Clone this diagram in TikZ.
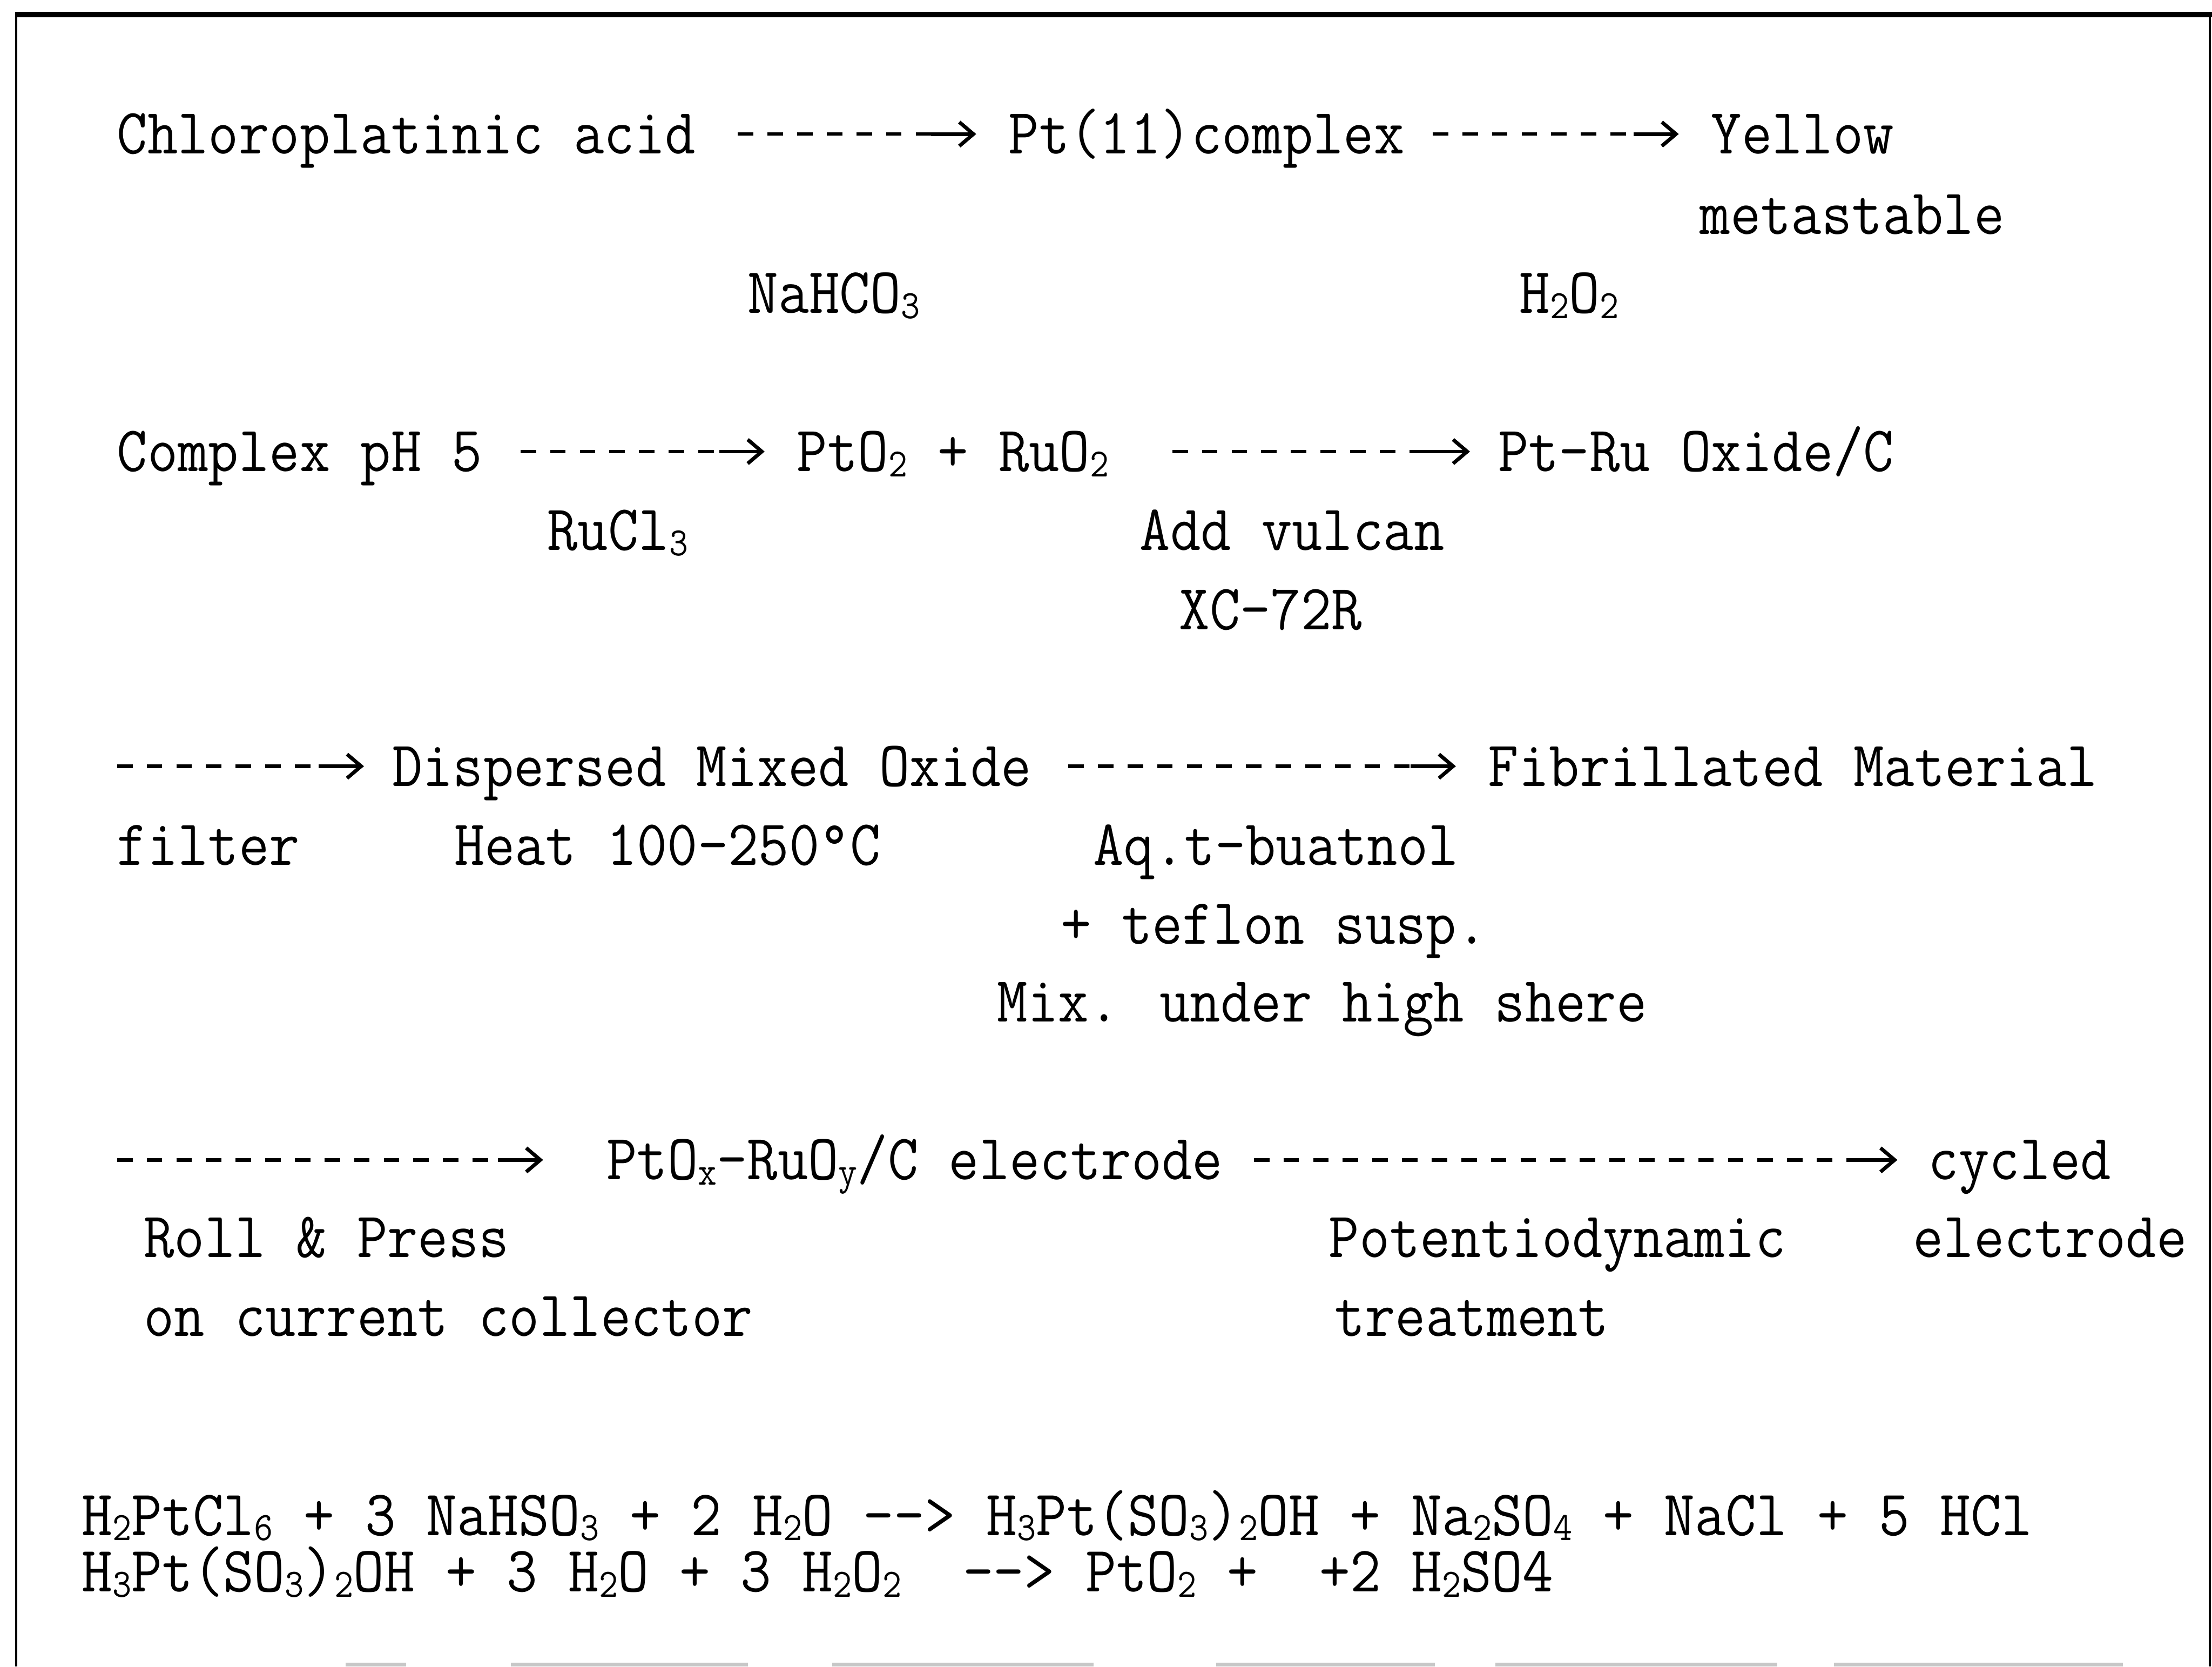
\documentclass[tikz,border=0pt]{standalone}
\usepackage{fontspec}
\usepackage{graphicx}
\usetikzlibrary{arrows.meta}

% typewriter faces: flow-chart text and the condensed formula text
\newcommand\rowfont{\ttfamily\addfontfeature{FakeBold=0.8}\fontsize{45.8pt}{55pt}\selectfont}
\newcommand\eqfont{\ttfamily\addfontfeature{FakeBold=0.8}\fontsize{46pt}{52pt}\selectfont}
\newcommand\rt[1]{\scalebox{0.915}[1]{\rowfont #1}}
\newcommand\et[1]{\scalebox{0.918}[1]{\eqfont #1}}
% small, slightly lowered index
\newcommand\low[1]{\raisebox{-0.08em}{\scalebox{0.62}{#1}}}

\tikzset{
  lbl/.style={anchor=base west, inner sep=0pt, outer sep=0pt},
  item/.style={lbl, text height=28pt, text depth=0pt},
  dsh/.style={line width=2.5pt, dash pattern=on 11pt off 10pt},
  head/.style={line width=2.6pt, -{Straight Barb[length=10pt,width=17pt]}},
  frame/.style={line width=1.8pt},
  scanedge/.style={line width=3pt, black!22},
}

% dashed reaction arrow: from, to, start gap, end gap, end gap + solid shaft
\newcommand\flow[5]{%
  \draw[dsh, shorten <=#3pt, shorten >=#5pt] (#1) -- (#2);
  \draw[head] ([xshift=-#5pt]#2) -- ([xshift=-#4pt]#2);}

\begin{document}
\begin{tikzpicture}[x=1pt,y=-1pt]
\useasboundingbox (0,0) rectangle (1568,1181);
\fill[white] (0,0) rectangle (1568,1181);

% frame
\draw[line width=3.7pt] (10.6,10.3) -- (1568,10.3);
\draw[frame] (11.5,8.5) -- (11.5,1181);
\draw[line width=1.4pt] (1566.4,8.5) -- (1566.4,1181);
\foreach \a/\b in {245/288, 362/530, 590/775, 862/1017, 1060/1260, 1300/1505}
  \draw[scanedge] (\a,1179.6) -- (\b,1179.6);

% row 1
\node[item] (chl)  at (83,109)   {\rt{Chloroplatinic acid}};
\node[item] (ptc)  at (715,109)  {\rt{Pt(11)complex}};
\node[item] (yel)  at (1213,109) {\rt{Yellow}};
\node[lbl]  (meta) at (1205,166) {\rt{metastable}};
\node[lbl]  (nahco) at (530,222) {\et{NaHCO\low{3}}};
\node[lbl]  (hoo)  at (1077,222) {\et{H\low{2}O\low{2}}};
\flow{chl.east}{ptc.west}{30}{23}{55}
\flow{ptc.east}{yel.west}{20}{23}{55}

% row 2
\node[item] (cph)  at (83,334)   {\rt{Complex pH 5}};
\node[item] (ptru) at (565,334)  {\rt{PtO\low{2} + RuO\low{2}}};
\node[item] (oxc)  at (1062,334) {\rt{Pt-Ru Oxide/C}};
\node[lbl]  (rucl) at (388,390)  {\rt{RuCl\low{3}}};
\node[lbl]  (vul)  at (808,390)  {\rt{Add vulcan}};
\node[lbl]  (xc)   at (836,446)  {\rt{XC-72R}};
\flow{cph.east}{ptru.west}{27}{23}{55}
\flow{ptru.east}{oxc.west}{45}{20}{52}

% row 3
\coordinate (s3) at (83,543);
\node[item] (dmo)  at (278,557)  {\rt{Dispersed Mixed Oxide}};
\node[item] (fib)  at (1055,557) {\rt{Fibrillated Material}};
\node[lbl]  (fil)  at (83,613)   {\rt{filter}};
\node[lbl]  (heat) at (322,613)  {\rt{Heat 100-250°C}};
\node[lbl]  (aq)   at (775,613)  {\rt{Aq.t-buatnol}};
\node[lbl]  (tef)  at (752,669)  {\rt{+ teflon susp.}};
\node[lbl]  (mix)  at (707,724)  {\rt{Mix. under high shere}};
\flow{s3}{dmo.west}{0}{20}{52}
\flow{dmo.east}{fib.west}{26}{23}{55}

% row 4
\coordinate (s4) at (83,822);
\node[item] (elec) at (430,836)  {\rt{PtO\low{x}-RuO\low{y}/C electrode}};
\node[item] (cyc)  at (1367,836) {\rt{cycled}};
\node[lbl]  (roll) at (102,891)  {\rt{Roll \& Press}};
\node[lbl]  (coll) at (102,947)  {\rt{on current collector}};
\node[lbl]  (pot)  at (942,891)  {\rt{Potentiodynamic}};
\node[lbl]  (trt)  at (946,947)  {\rt{treatment}};
\node[lbl]  (cyc2) at (1356,891) {\rt{electrode}};
\flow{s4}{elec.west}{0}{45}{77}
\flow{elec.east}{cyc.west}{22}{22}{54}

% reactions
\node[lbl] (eq1) at (58,1088) {\et{H\low{2}PtCl\low{6} + 3 NaHSO\low{3} + 2 H\low{2}O --> H\low{3}Pt(SO\low{3})\low{2}OH + Na\low{2}SO\low{4} + NaCl + 5 HCl}};
\node[lbl] (eq2) at (58,1128) {\et{H\low{3}Pt(SO\low{3})\low{2}OH + 3 H\low{2}O + 3 H\low{2}O\low{2}\ \ --> PtO\low{2} +\ \ +2 H\low{2}SO4}};
\end{tikzpicture}
\end{document}
